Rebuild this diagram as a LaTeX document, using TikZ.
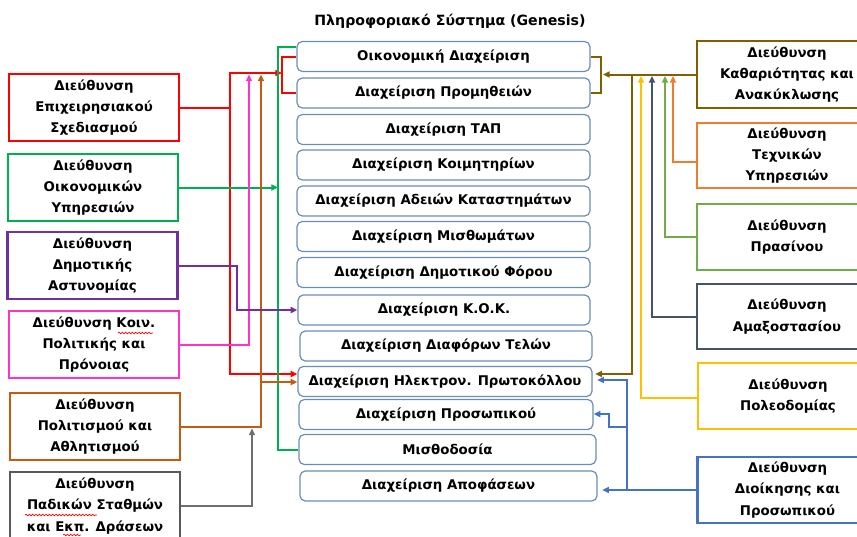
\documentclass[tikz,border=0pt]{standalone}
\usepackage{fontspec}
\setmainfont{DejaVu Sans}
\usetikzlibrary{arrows.meta,decorations.pathmorphing}
\definecolor{cbord}{HTML}{6A8CB8}
\definecolor{cred}{HTML}{FF0000}
\definecolor{cgreen}{HTML}{00B050}
\definecolor{cpurple}{HTML}{7030A0}
\definecolor{cmag}{HTML}{FF33CC}
\definecolor{cbrown}{HTML}{C55A11}
\definecolor{cgrey}{HTML}{595959}
\definecolor{cgreyl}{HTML}{707070}
\definecolor{colive}{HTML}{7F6000}
\definecolor{corange}{HTML}{ED7D31}
\definecolor{clgreen}{HTML}{70AD47}
\definecolor{cslate}{HTML}{44546A}
\definecolor{cyellow}{HTML}{FFC000}
\definecolor{cblue}{HTML}{4472C4}
\begin{document}
\begin{tikzpicture}[x=0.75pt,y=-0.75pt,
  every node/.style={font=\bfseries\fontsize{10}{16}\selectfont, align=center, text=black},
  cbox/.style={draw=cbord, line width=0.9pt, rounded corners=4pt, minimum height=30*0.75pt, inner sep=0pt},
  dbox/.style={draw=#1, line width=1.6pt, minimum width=170*0.75pt, minimum height=67*0.75pt, inner sep=0pt},
  rbox/.style={draw=#1, line width=1.6pt, minimum width=180*0.75pt, minimum height=66*0.75pt, inner sep=0pt},
  lw/.style={line width=1.5pt},
  arr/.style={-{Triangle[length=5pt,width=4.5pt]}},
  spell/.style={draw=red, line width=0.5pt, decorate, decoration={snake, amplitude=0.6pt, segment length=2.5pt}}
]
\useasboundingbox (0,0) rectangle (857,536);
\clip (0,0) rectangle (857,536);

\node (T) at (450,21) {\fontsize{10.6}{12}\selectfont Πληροφοριακό Σύστημα (Genesis)};

% central boxes
\node[cbox, minimum width=293*0.75pt] (C1) at (443.5,56.5) {Οικονομική Διαχείριση};
\node[cbox, minimum width=293*0.75pt] (C2) at (443.5,93) {Διαχείριση Προμηθειών};
\node[cbox, minimum width=293*0.75pt] (C3) at (443.5,129.5) {Διαχείριση ΤΑΠ};
\node[cbox, minimum width=293*0.75pt] (C4) at (443.5,165) {Διαχείριση Κοιμητηρίων};
\node[cbox, minimum width=293*0.75pt] (C5) at (443.5,201) {Διαχείριση Αδειών Καταστημάτων};
\node[cbox, minimum width=293*0.75pt] (C6) at (443.5,236.5) {Διαχείριση Μισθωμάτων};
\node[cbox, minimum width=293*0.75pt] (C7) at (443.5,272.5) {Διαχείριση Δημοτικού Φόρου};
\node[cbox, minimum width=292*0.75pt] (C8) at (444,310) {Διαχείριση Κ.Ο.Κ.};
\node[cbox, minimum width=292*0.75pt] (C9) at (446,346) {Διαχείριση Διαφόρων Τελών};
\node[cbox, minimum width=294*0.75pt] (C10) at (445,381.5) {Διαχείριση Ηλεκτρον. Πρωτοκόλλου};
\node[cbox, minimum width=294*0.75pt] (C11) at (446,414.5) {Διαχείριση Προσωπικού};
\node[cbox, minimum width=297*0.75pt] (C12) at (447.5,449.5) {Μισθοδοσία};
\node[cbox, minimum width=297*0.75pt] (C13) at (448.5,486) {Διαχείριση Αποφάσεων};

% left boxes
\node[dbox=cred] (L1) at (94,107.5) {Διεύθυνση\\Επιχειρησιακού\\Σχεδιασμού};
\node[dbox=cgreen] (L2) at (93,187.5) {Διεύθυνση\\Οικονομικών\\Υπηρεσιών};
\node[dbox=cpurple] (L3) at (92.5,265.5) {Διεύθυνση\\Δημοτικής\\Αστυνομίας};
\node[dbox=cmag] (L4) at (94,344.5) {Διεύθυνση Κοιν.\\Πολιτικής και\\Πρόνοιας};
\node[dbox=cbrown] (L5) at (95,426.5) {Διεύθυνση\\Πολιτισμού και\\Αθλητισμού};
\node[dbox=cgrey, minimum height=68*0.75pt] (L6) at (95,506) {Διεύθυνση\\Παδικών Σταθμών\\και Εκπ. Δράσεων};

% spell-check underlines
\draw[spell] (118,333) -- (153,333);
\draw[spell] (25,515) -- (97,515);
\draw[spell] (63,535) -- (81,535);

% right boxes
\node[rbox=colive, minimum height=67*0.75pt] (R1) at (787,74.5) {Διεύθυνση\\Καθαριότητας και\\Ανακύκλωσης};
\node[rbox=corange, minimum height=65*0.75pt] (R2) at (787,155.5) {Διεύθυνση\\Τεχνικών\\Υπηρεσιών};
\node[rbox=clgreen] (R3) at (787,237) {Διεύθυνση\\Πρασίνου};
\node[rbox=cslate, minimum height=65*0.75pt] (R4) at (787,316.5) {Διεύθυνση\\Αμαξοστασίου};
\node[rbox=cyellow] (R5) at (788,396) {Διεύθυνση\\Πολεοδομίας};
\node[rbox=cblue] (R6) at (787.5,490) {Διεύθυνση\\Διοίκησης και\\Προσωπικού};

% ---- left connectors
\coordinate (rTop) at (230,73);
\coordinate (rBot) at (230,374);
\coordinate (rBr) at (282,73);
\draw[lw,cred] (C1.west) -| (rBr) |- (C2.west);
\draw[lw,cred] (L1.east) -- (L1.east -| rTop);
\draw[lw,cred,{Triangle[length=5pt,width=4.5pt]}-{Triangle[length=5pt,width=4.5pt]}] (rBr) -- (rTop) -- (rBot) -- (C10.west |- rBot);

\coordinate (gBus) at (278,300);
\draw[lw,cgreen] ([yshift=7pt]C1.west) -| (gBus) |- (C12.west);
\draw[lw,cgreen,arr] (L2.east) -- (L2.east -| gBus);

\coordinate (mTop) at (249,74.5);
\draw[lw,cmag,arr] (L4.east) -| (mTop);

\coordinate (bTop) at (261,74.5);
\coordinate (bBr) at (261,382);
\draw[lw,cbrown,arr] (L5.east) -| (bTop);
\draw[lw,cbrown,arr] (bBr) -- (C10.west |- bBr);

\coordinate (gyTop) at (252,428.5);
\draw[lw,cgreyl,arr] (L6.east) -| (gyTop);

\coordinate (pJ) at (237,310);
\draw[lw,cpurple,arr] (L3.east) -| (pJ) -- (C8.west);

% ---- right connectors
\coordinate (oBr) at (601,74.5);
\draw[lw,colive] (C1.east) -| (oBr) |- (C2.east);
\draw[lw,colive,arr] (R1.west) -- ([xshift=1.5pt]oBr);
\coordinate (oBus) at (632,74.5);
\coordinate (oBot) at (632,374);
\draw[lw,colive,arr,shorten >=2pt] (oBus) -- (oBot) -- (C10.east |- oBot);

\coordinate (yTop) at (641,76);
\draw[lw,cyellow,arr] ([yshift=-1.5pt]R5.west) -| (yTop);
\coordinate (sTop) at (652,76);
\draw[lw,cslate,arr] (R4.west) -| (sTop);
\coordinate (lgTop) at (665,76);
\draw[lw,clgreen,arr] (R3.west) -| (lgTop);
\coordinate (orTop) at (673,76);
\draw[lw,corange,arr] ([yshift=-4.5pt]R2.west) -| (orTop);

\coordinate (bl1) at (627,380);
\coordinate (bl2) at (627,427);
\coordinate (bl3) at (609,414);
\draw[lw,cblue,arr,shorten >=3.5pt] (R6.west) -- (C13.east |- R6.west);
\draw[lw,cblue,arr,shorten >=3.5pt] (R6.west -| bl1) -- (bl1) -- (C10.east |- bl1);
\draw[lw,cblue,arr] (bl2) -| (bl3) -- (C11.east |- bl3);
\end{tikzpicture}
\end{document}
